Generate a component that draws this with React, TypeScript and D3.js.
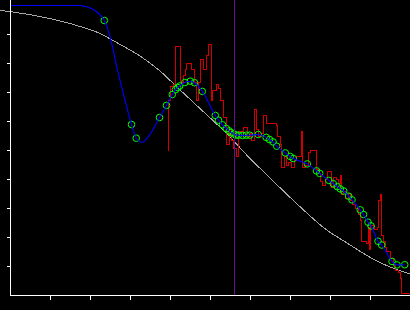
import React from "react";
import * as d3 from "d3";

const W = 410;
const H = 310;

// Green sample points (fitted knots)
const pointX = [2.345, 3.025, 3.143, 3.725, 3.9, 4.045, 4.125, 4.18, 4.23, 4.358, 4.495, 4.6, 4.795, 5.12, 5.2, 5.3, 5.395, 5.468, 5.52, 5.58, 5.638, 5.695, 5.8, 5.895, 5.98, 6.193, 6.393, 6.475, 6.563, 6.655, 6.87, 6.993, 7.068, 7.42, 7.65, 7.73, 7.958, 8.07, 8.17, 8.245, 8.33, 8.455, 8.538, 8.743, 8.825, 8.938, 9.013, 9.188, 9.28, 9.538, 9.663, 9.855];
const pointY = [9.483, 5.897, 5.424, 6.138, 6.555, 6.931, 7.097, 7.172, 7.224, 7.345, 7.39, 7.338, 7.038, 6.21, 6.045, 5.886, 5.759, 5.676, 5.614, 5.569, 5.534, 5.528, 5.521, 5.528, 5.528, 5.552, 5.452, 5.379, 5.297, 5.148, 4.917, 4.793, 4.724, 4.538, 4.297, 4.21, 3.969, 3.855, 3.752, 3.676, 3.603, 3.424, 3.297, 2.952, 2.793, 2.528, 2.4, 1.872, 1.741, 1.176, 1.055, 1.062];

// Extra points of the blue spline outside the knots
const blueExtraX = [0, 1.6625, 1.905, 2.155, 2.28, 2.53, 2.655, 2.8625, 3.295, 3.445];
const blueExtraY = [10, 10, 9.959, 9.786, 9.614, 8.697, 7.89, 6.741, 5.283, 5.476];

// Gray smooth reference curve
const grayX = [-0.2625, 0.7375, 1.7375, 2.2375, 2.5625, 2.9875, 3.2375, 3.7375, 4.1875, 4.7375, 5.4875, 5.905, 6.4875, 7.2375, 7.905, 8.3625, 9.1875, 9.9875];
const grayY = [9.834, 9.621, 9.276, 9.034, 8.793, 8.466, 8.259, 7.741, 7.155, 6.448, 5.466, 4.845, 4.052, 3.062, 2.259, 1.855, 1.166, 0.741];

// Red raw step series
const redX = [3.925, 3.9375, 3.9875, 4.0625, 4.125, 4.25, 4.3125, 4.3625, 4.4125, 4.5125, 4.6, 4.65, 4.6875, 4.7375, 4.8125, 4.8875, 4.95, 5.025, 5.0625, 5.1375, 5.1875, 5.2375, 5.3125, 5.3625, 5.4, 5.4625, 5.5125, 5.5625, 5.6375, 5.7, 5.8125, 5.925, 5.9875, 6.025, 6.0875, 6.15, 6.1875, 6.2625, 6.3125, 6.4, 6.6375, 6.6875, 6.7375, 6.775, 6.8375, 6.8875, 6.9375, 7.0125, 7.0875, 7.15, 7.2625, 7.3, 7.3625, 7.4375, 7.4875, 7.6375, 7.6875, 7.7375, 7.7875, 7.8625, 7.9375, 8.0125, 8.0625, 8.1375, 8.1875, 8.2375, 8.275, 8.325, 8.3875, 8.4375, 8.4875, 8.5375, 8.6125, 8.6875, 8.7375, 8.775, 8.9, 8.9375, 8.9625, 9.0125, 9.0875, 9.1625, 9.2, 9.2375, 9.275, 9.3125, 9.3625, 9.4125, 9.4875, 9.5625, 9.6375, 9.6875, 9.7375, 9.775, 9.9875];
const redY = [5.017, 6.741, 7.19, 7.293, 8.603, 7.328, 7.569, 7.776, 8.017, 7.776, 7.328, 6.741, 7.328, 8.121, 7.776, 8.293, 8.638, 6.741, 7.086, 7.259, 7.155, 6.741, 6.155, 6.121, 5.19, 5.707, 5.362, 5.086, 4.776, 5.638, 5.81, 5.466, 5.603, 5.362, 6.397, 5.707, 5.466, 5.603, 6.224, 5.948, 5.845, 5.5, 5.19, 4.431, 4.776, 4.466, 4.603, 4.431, 4.672, 4.81, 5.672, 4.397, 4.5, 4.948, 5.017, 4.328, 4.19, 3.914, 3.81, 3.983, 4.259, 3.707, 4.052, 3.983, 3.845, 4.121, 3.466, 3.569, 3.362, 3.534, 3.293, 3.155, 3.017, 2.776, 2.569, 1.845, 1.81, 2.328, 1.569, 2.431, 2.293, 2.328, 3.293, 3.466, 2.086, 1.845, 1.638, 1.534, 1.293, 1.052, 0.879, 0.776, 0.603, 0.086, 0.086];

const markerX = 5.575;
const xTicks = [1, 2, 3, 4, 5, 6, 7, 8, 9];
const yTicks = [1, 2, 3, 4, 5, 6, 7, 8, 9];

type P = [number, number];

export default function App() {
  const x = d3.scaleLinear().domain([0, 10]).range([10.5, 410.5]);
  const y = d3.scaleLinear().domain([0, 10]).range([295.5, 5.5]);

  const pts: P[] = pointX.map((v, i) => [v, pointY[i]]);
  const bluePts: P[] = pts
    .concat(blueExtraX.map((v, i) => [v, blueExtraY[i]] as P))
    .sort((a, b) => a[0] - b[0]);
  const grayPts: P[] = grayX.map((v, i) => [v, grayY[i]]);
  const redPts: P[] = redX.map((v, i) => [v, redY[i]]);

  const smooth = d3
    .line<P>()
    .x((d) => x(d[0]))
    .y((d) => y(d[1]))
    .curve(d3.curveMonotoneX);
  const step = d3
    .line<P>()
    .x((d) => Math.round(x(d[0]) - 0.5) + 0.5)
    .y((d) => Math.round(y(d[1]) - 0.5) + 0.5)
    .curve(d3.curveStepAfter);

  const x0 = x(0);
  const y0 = y(0);

  return (
    <div style={{ position: "fixed", left: 0, top: 0 }}>
      <svg width={W} height={H} style={{ display: "block" }}>
        <rect x={0} y={0} width={W} height={H} fill="#000" />
        <path d={smooth(grayPts) || ""} fill="none" stroke="#a8a8a8" strokeWidth={1} shapeRendering="crispEdges" />
        <path d={step(redPts) || ""} fill="none" stroke="#d00000" strokeWidth={1} shapeRendering="crispEdges" />
        {pts.map((d, i) => (
          <circle key={i} cx={x(d[0])} cy={y(d[1])} r={3.3} fill="none" stroke="#00ff00" strokeWidth={1} />
        ))}
        <path d={smooth(bluePts) || ""} fill="none" stroke="#0000ff" strokeWidth={1.1} />
        <line x1={Math.round(x(markerX)) + 0.5} x2={Math.round(x(markerX)) + 0.5} y1={0} y2={y0} stroke="#66108a" strokeWidth={1} shapeRendering="crispEdges" />
        <line x1={x0} x2={x0} y1={0} y2={y0} stroke="#fff" strokeWidth={1} shapeRendering="crispEdges" />
        <line x1={x0} x2={W} y1={y0} y2={y0} stroke="#fff" strokeWidth={1} shapeRendering="crispEdges" />
        {yTicks.map((t) => (
          <line key={"y" + t} x1={x0 - 3.5} x2={x0} y1={y(t)} y2={y(t)} stroke="#fff" strokeWidth={1} shapeRendering="crispEdges" />
        ))}
        {xTicks.map((t) => (
          <line key={"x" + t} x1={x(t)} x2={x(t)} y1={y0} y2={y0 + 4} stroke="#fff" strokeWidth={1} shapeRendering="crispEdges" />
        ))}
      </svg>
    </div>
  );
}
